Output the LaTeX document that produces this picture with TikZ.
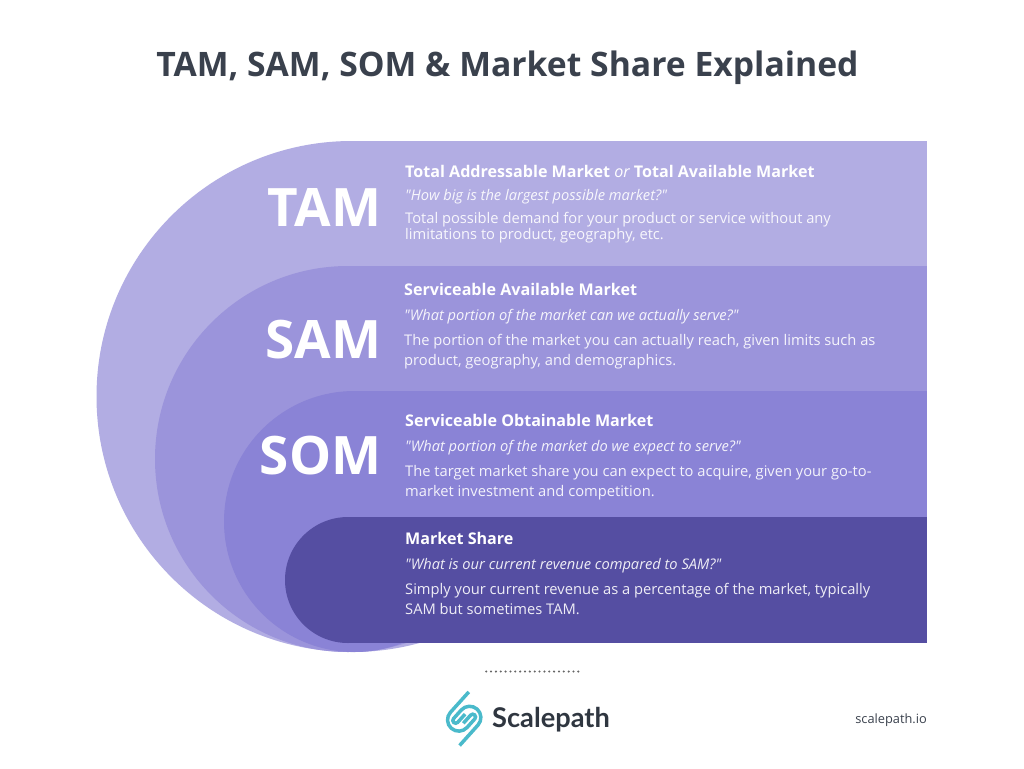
\documentclass[tikz,border=0pt]{standalone}
\usepackage{fontspec}
\setmainfont{Open Sans}
\newfontfamily\qfont{Open Sans}
\newfontfamily\logofont{Lato}
\definecolor{tamc}{HTML}{B2ADE3}
\definecolor{samc}{HTML}{9B94DB}
\definecolor{somc}{HTML}{8A83D6}
\definecolor{sharec}{HTML}{554EA2}
\definecolor{titlec}{HTML}{3A414D}
\definecolor{logoc}{HTML}{4ABACB}
\definecolor{logot}{HTML}{2F3640}
\tikzset{
 x=1pt,y=-1pt,
 head/.style={anchor=base west,inner sep=0,text=white,font=\fontsize{16.1}{18}\selectfont\bfseries},
 quest/.style={anchor=base west,inner sep=0,text=white,opacity=.9,font=\qfont\fontsize{14.65}{17}\selectfont\itshape},
 bodytext/.style={anchor=base west,inner sep=0,text=white,opacity=.9,font=\fontsize{14.7}{20}\selectfont},
 abbr/.style={anchor=base east,inner sep=0,text=white,font=\fontsize{53}{60}\selectfont\bfseries},
 hook/.style={draw=logoc,line width=3.5pt,line cap=butt},
}
\begin{document}
\begin{tikzpicture}
\useasboundingbox (0,0) rectangle (1024,768);
\fill[white] (0,0) rectangle (1024,768);
\fill[tamc] (352,396.5) circle[radius=255.5];
\fill[tamc] (352,141) rectangle (926.5,266);
\fill[samc] (348,459) circle[radius=193];
\fill[samc] (348,266) rectangle (926.5,391);
\fill[somc] (354.5,521.5) circle[radius=130.5];
\fill[somc] (354,391) rectangle (926.5,517);
\fill[sharec] (348,580) circle[radius=63];
\fill[sharec] (348,517) rectangle (926.5,643);
\node[anchor=base,inner sep=0,text=titlec,font=\fontsize{33.7}{40}\selectfont\bfseries] (title) at (507.5,76) {TAM, SAM, SOM \& Market Share Explained};
\node[abbr] (tam) at (381.5,226.5) {TAM};
\node[abbr] (sam) at (381.5,358) {SAM};
\node[abbr] (som) at (381.5,474.5) {SOM};
\node[head] (h1) at (405,177) {Total Addressable Market {\mdseries\itshape or} Total Available Market};
\node[quest] (q1) at (405,200) {"How big is the largest possible market?"};
\node[bodytext] (b1a) at (405,223) {Total possible demand for your product or service without any};
\node[bodytext] (b1b) at (405,239) {limitations to product, geography, etc.};
\node[head] (h2) at (404,295) {Serviceable Available Market};
\node[quest] (q2) at (404,320) {"What portion of the market can we actually serve?"};
\node[bodytext] (b2a) at (404,345) {The portion of the market you can actually reach, given limits such as};
\node[bodytext] (b2b) at (404,365) {product, geography, and demographics.};
\node[head] (h3) at (405,426) {Serviceable Obtainable Market};
\node[quest] (q3) at (405,451) {"What portion of the market do we expect to serve?"};
\node[bodytext] (b3a) at (405,476) {The target market share you can expect to acquire, given your go-to-};
\node[bodytext] (b3b) at (405,496) {market investment and competition.};
\node[head] (h4) at (405,544) {Market Share};
\node[quest] (q4) at (405,569) {"What is our current revenue compared to SAM?"};
\node[bodytext] (b4a) at (405,594) {Simply your current revenue as a percentage of the market, typically};
\node[bodytext] (b4b) at (405,614) {SAM but sometimes TAM.};
\foreach \i in {0,...,19} \fill[black!60] ({486.2+\i*4.85},671.5) circle[radius=1.15];
\begin{scope}[shift={(464.2,718.7)},x={(.669pt,.743pt)},y={(-.743pt,.669pt)}]
\draw[hook] (23,14.5) -- (-4.5,14.5) arc[start angle=90,end angle=270,radius=11.25] -- (7,-8) arc[start angle=-90,end angle=90,radius=2.8] -- (-4,-2.4);
\draw[hook] (-23,-14.5) -- (4.5,-14.5) arc[start angle=-90,end angle=90,radius=11.25] -- (-7,8) arc[start angle=90,end angle=270,radius=2.8] -- (4,2.4);
\end{scope}
\node[anchor=base west,inner sep=0,text=logot,font=\logofont\fontsize{27.2}{30}\selectfont\bfseries] (logo) at (492,727) {Scalepath};
\node[anchor=base east,inner sep=0,text=titlec,font=\fontsize{12.8}{15}\selectfont] (url) at (927,723) {scalepath.io};
\end{tikzpicture}
\end{document}
